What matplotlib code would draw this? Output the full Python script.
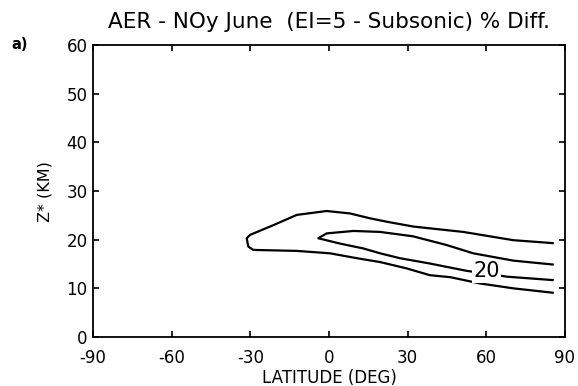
import matplotlib
matplotlib.use("Agg")
import matplotlib.pyplot as plt

plt.rcParams['font.family'] = ['DejaVu Sans']

# outer contour (open at the right edge), bottom edge -> tip -> top edge
outer_lat = [85.3, 70.3, 57.6, 46.2, 38.5, 29.6, 19.5, 10.6, 0.4, -12.3, -28.9, -30.8,
             -31.4, -30.1, -21.2, -12.3, -0.9, 8.0, 15.6, 22.0, 32.2, 51.2, 70.3, 85.3]
outer_z = [9.1, 10.0, 11.0, 12.3, 12.7, 14.1, 15.4, 16.2, 17.2, 17.7, 17.9, 18.6,
           20.3, 21.0, 23.0, 25.1, 25.9, 25.4, 24.4, 23.7, 22.7, 21.6, 19.9, 19.3]

# inner contour (20 %)
inner_lat = [85.3, 67.8, 52.5, 38.5, 27.0, 19.5, 13.1, 4.2, -4.1,
             -0.9, 9.3, 19.5, 32.0, 44.9, 55.0, 70.3, 85.3]
inner_z = [11.7, 12.4, 13.6, 15.1, 16.2, 17.2, 18.2, 19.2, 20.3,
           21.3, 21.8, 21.6, 20.7, 18.9, 17.2, 15.7, 14.9]

label_text = "20"
label_pos = (60.0, 13.5)

x_ticks = [-90, -60, -30, 0, 30, 60, 90]
y_ticks = [0, 10, 20, 30, 40, 50, 60]

fig = plt.figure(figsize=(5.78, 3.86), dpi=100)
ax = fig.add_axes([0.161, 0.127, 0.8165, 0.756])

ax.plot(outer_lat, outer_z, color='black', lw=1.6)
ax.plot(inner_lat, inner_z, color='black', lw=1.6)
ax.text(label_pos[0], label_pos[1], label_text, fontsize=15, ha='center', va='center',
        bbox=dict(facecolor='white', edgecolor='none', pad=1))

ax.set_xlim(-90, 90)
ax.set_ylim(0, 60)
ax.set_xticks(x_ticks)
ax.set_yticks(y_ticks)
ax.set_xticklabels([str(t) for t in x_ticks])
ax.tick_params(direction='in', top=True, right=True, length=4.5, width=1.2,
               labelsize=12, colors='black')
ax.tick_params(axis='x', pad=9)
ax.tick_params(axis='y', pad=4)
for s in ax.spines.values():
    s.set_linewidth(1.3)

ax.set_xlabel("LATITUDE (DEG)", fontsize=12, labelpad=1)
ax.set_ylabel("Z* (KM)", fontsize=11.5, labelpad=10)
ax.set_title("AER - NOy June  (EI=5 - Subsonic) % Diff.", fontsize=15.5, pad=12)
fig.text(0.02, 0.885, "a)", fontsize=10.5, fontweight='bold', va='center')

fig.savefig("out.png", dpi=100)
